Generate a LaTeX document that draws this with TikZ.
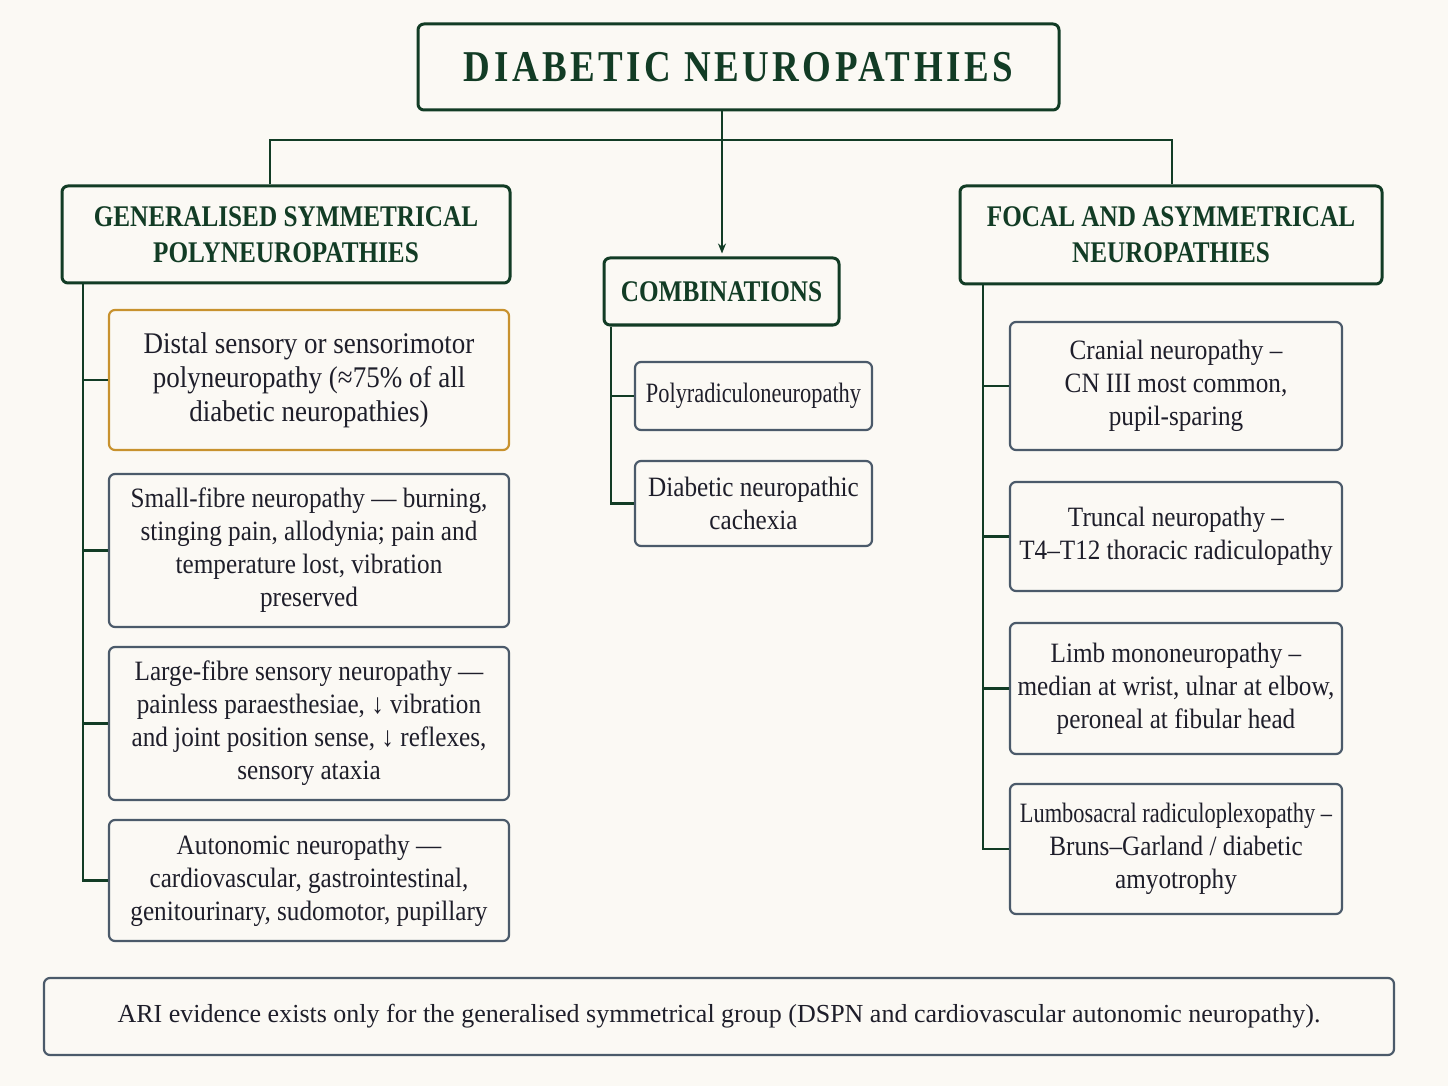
\documentclass[tikz,border=0pt]{standalone}
\usepackage{fontspec}
\usepackage{tikz}
\setmainfont{Liberation Serif}
\newfontfamily\headfont[FakeStretch=0.84]{Liberation Serif}
\newfontfamily\bodyfont[FakeStretch=0.9]{Liberation Serif}
\newfontfamily\tightfont[FakeStretch=0.8]{Liberation Serif}
\usetikzlibrary{arrows.meta,positioning}

\definecolor{bgcream}{HTML}{FBF9F4}
\definecolor{deepgreen}{HTML}{123C25}
\definecolor{slate}{HTML}{4B5A6A}
\definecolor{ochre}{HTML}{C8922E}
\definecolor{inkdark}{HTML}{1E1E2A}

\tikzset{
  titlebox/.style={draw=deepgreen, line width=1.5pt, rounded corners=3pt, fill=bgcream,
    minimum width=320.5pt, minimum height=43pt, inner sep=0pt, text=deepgreen,
    font=\headfont\bfseries\fontsize{22}{26}\selectfont},
  headbox/.style={draw=deepgreen, line width=1.5pt, rounded corners=3pt, fill=bgcream,
    align=center, inner sep=0pt, text=deepgreen, font=\headfont\bfseries\fontsize{15}{18}\selectfont},
  itembox/.style={draw=slate, line width=1.1pt, rounded corners=3pt, fill=bgcream,
    align=center, inner sep=0pt, text=inkdark, font=\bodyfont\fontsize{14}{16.5}\selectfont},
  keybox/.style={itembox, draw=ochre, font=\bodyfont\fontsize{15}{17}\selectfont},
  link/.style={deepgreen, line width=1.4pt},
}

\begin{document}
\begin{tikzpicture}[x=0.5pt, y=-0.5pt]
  \useasboundingbox[fill=bgcream] (0,0) rectangle (1448,1086);

  % Title
  \node[titlebox] (title) at (738.5,67) {\addfontfeatures{LetterSpace=8}DIABETIC NEUROPATHIES};

  % Group headers
  \node[headbox, minimum width=224pt, minimum height=48.5pt] (genhead) at (286,234.5)
    {GENERALISED SYMMETRICAL\\POLYNEUROPATHIES};
  \node[headbox, minimum width=117.5pt, minimum height=33.5pt] (combo) at (721.5,291.5)
    {COMBINATIONS};
  \node[headbox, minimum width=211pt, minimum height=49pt] (focalhead) at (1171,235)
    {FOCAL AND ASYMMETRICAL\\NEUROPATHIES};

  % Generalised symmetrical items
  \node[keybox, minimum width=200pt, minimum height=70pt] (dspn) at (309,380)
    {Distal sensory or sensorimotor\\polyneuropathy (≈75\% of all\\diabetic neuropathies)};
  \node[itembox, minimum width=200pt, minimum height=76.5pt] (smallfibre) at (309,550.5)
    {Small-fibre neuropathy — burning,\\stinging pain, allodynia; pain and\\temperature lost, vibration\\preserved};
  \node[itembox, minimum width=200pt, minimum height=76.5pt] (largefibre) at (309,723.5)
    {Large-fibre sensory neuropathy —\\painless paraesthesiae, ↓ vibration\\and joint position sense, ↓ reflexes,\\sensory ataxia};
  \node[itembox, minimum width=200pt, minimum height=60.5pt] (autonomic) at (309,880.5)
    {Autonomic neuropathy —\\cardiovascular, gastrointestinal,\\genitourinary, sudomotor, pupillary};

  % Combination items
  \node[itembox, minimum width=118.5pt, minimum height=34pt] (polyrad) at (753.5,396)
    {\tightfont Polyradiculoneuropathy};
  \node[itembox, minimum width=118.5pt, minimum height=42.5pt] (cachexia) at (753.5,503.5)
    {Diabetic neuropathic\\cachexia};

  % Focal and asymmetrical items
  \node[itembox, minimum width=166pt, minimum height=64pt] (cranial) at (1176,386)
    {Cranial neuropathy –\\CN III most common,\\pupil-sparing};
  \node[itembox, minimum width=166pt, minimum height=54.5pt] (truncal) at (1176,536.5)
    {Truncal neuropathy –\\T4–T12 thoracic radiculopathy};
  \node[itembox, minimum width=166pt, minimum height=65.5pt] (limb) at (1176,688.5)
    {Limb mononeuropathy –\\median at wrist, ulnar at elbow,\\peroneal at fibular head};
  \node[itembox, minimum width=166pt, minimum height=65pt] (lumbo) at (1176,849)
    {{\tightfont Lumbosacral radiculoplexopathy –}\\Bruns–Garland / diabetic\\amyotrophy};

  % Footnote
  \node[itembox, minimum width=675pt, minimum height=38.5pt, font=\fontsize{13}{16}\selectfont] (note) at (719,1016.5)
    {ARI evidence exists only for the generalised symmetrical group (DSPN and cardiovascular autonomic neuropathy).};

  % Trunk and branches
  \coordinate (hub) at (722,140);
  \coordinate (lbend) at (270,140);
  \coordinate (rbend) at (1172,140);
  \draw[link] (hub |- title.south) -- (hub);
  \draw[link] (genhead.north -| lbend) -- (lbend) -- (rbend) -- (focalhead.north -| rbend);
  \draw[link, -{Stealth[length=5pt, width=4pt]}] (hub) -- ([yshift=1.5pt]combo.north -| hub);

  % Spines
  \coordinate (lspine) at (83,0);
  \coordinate (cspine) at (611,0);
  \coordinate (rspine) at (983,0);
  \draw[link] (lspine |- genhead.south) |- (autonomic.west);
  \foreach \n in {dspn, smallfibre, largefibre}
    \draw[link] (lspine |- \n.west) -- (\n.west);
  \draw[link] (cspine |- combo.south) |- (cachexia.west);
  \draw[link] (cspine |- polyrad.west) -- (polyrad.west);
  \draw[link] (rspine |- focalhead.south) |- (lumbo.west);
  \foreach \n in {cranial, truncal, limb}
    \draw[link] (rspine |- \n.west) -- (\n.west);
\end{tikzpicture}
\end{document}
